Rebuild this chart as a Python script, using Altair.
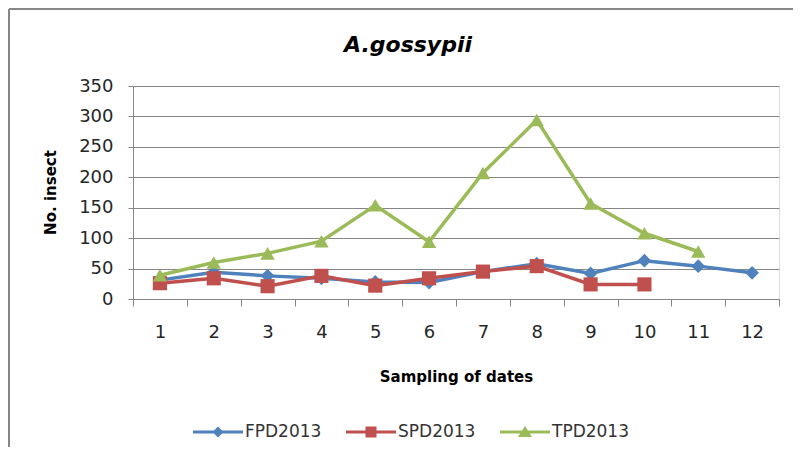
import altair as alt
import pandas as pd

dates = [str(i) for i in range(1, 13)]
fpd2013 = [31, 44, 38, 34, 28, 27, 45, 58, 42, 63, 54, 43]
spd2013 = [26, 34, 21, 38, 22, 34, 45, 54, 24, 24, None, None]
tpd2013 = [39, 60, 75, 95, 154, 94, 207, 294, 157, 108, 78, None]
series_names = ["FPD2013", "SPD2013", "TPD2013"]
series_colors = ["#4F81BD", "#C0504D", "#9BBB59"]
chart_title = "A.gossypii"

rows = []
for name, vals in zip(series_names, [fpd2013, spd2013, tpd2013]):
    for d, v in zip(dates, vals):
        if v is not None:
            rows.append({"date": d, "series": name, "value": v})
df = pd.DataFrame(rows)

FONT = "DejaVu Sans"
TXT = "#262626"

x_enc = alt.X(
    "date:O",
    sort=dates,
    bandPosition=0.5,
    scale=alt.Scale(type="band", paddingInner=0, paddingOuter=0, domain=dates),
    axis=alt.Axis(
        title="Sampling of dates", labelAngle=0, tickBand="extent", tickSize=7,
        labelPadding=17, labelFontSize=18, labelColor=TXT, labelFont=FONT,
        titleFont=FONT, titleFontSize=15, titleFontWeight="bold", titleColor="#000",
        titleY=77, titleBaseline="middle",
        domainColor="#868686", tickColor="#868686", grid=False,
    ),
)
y_enc = alt.Y(
    "value:Q",
    scale=alt.Scale(domain=[0, 350], nice=False),
    axis=alt.Axis(
        title="No. insect", values=list(range(0, 351, 50)), tickSize=5,
        labelPadding=15, labelFontSize=18, labelColor=TXT, labelFont=FONT,
        titleFont=FONT, titleFontSize=15, titleFontWeight="bold", titleColor="#000",
        titleX=-83, titleY=106, titleAngle=-90, titleAlign="center", titleBaseline="middle",
        domainColor="#868686", tickColor="#868686", gridColor="#868686", gridWidth=1,
    ),
)

lines = alt.Chart(df).mark_line(strokeWidth=3.5).encode(
    x=x_enc, y=y_enc,
    color=alt.Color("series:N", scale=alt.Scale(domain=series_names, range=series_colors), legend=None),
    detail="series:N",
)

points = alt.Chart(df).mark_point(filled=True, opacity=1).encode(
    x=x_enc, y=y_enc,
    color=alt.Color("series:N", scale=alt.Scale(domain=series_names, range=series_colors), legend=None),
    shape=alt.Shape("series:N", scale=alt.Scale(domain=series_names, range=["diamond", "square", "triangle-up"]), legend=None),
    size=alt.Size("series:N", scale=alt.Scale(domain=series_names, range=[190, 210, 270]), legend=None),
)

line_part = "M-1,-0.06L1,-0.06L1,0.06L-1,0.06Z "
legend_paths = [
    line_part + "M0,-0.22L0.22,0L0,0.22L-0.22,0Z",
    line_part + "M-0.22,-0.22L0.22,-0.22L0.22,0.22L-0.22,0.22Z",
    line_part + "M0,-0.24L0.28,0.2L-0.28,0.2Z",
]

leg = alt.Legend(
    title=None, orient="none", direction="horizontal", legendX=60, legendY=321,
    symbolSize=2500, symbolOpacity=1, labelFontSize=17, labelFont=FONT,
    labelColor="#333", labelOffset=2, columnPadding=24, symbolStrokeWidth=0,
)

legend_layer = alt.Chart(df).mark_point(filled=True, opacity=0).encode(
    x=x_enc, y=y_enc,
    color=alt.Color("series:N", scale=alt.Scale(domain=series_names, range=series_colors), legend=leg),
    shape=alt.Shape("series:N", scale=alt.Scale(domain=series_names, range=legend_paths), legend=leg),
)

frame_top = alt.Chart(df).mark_rule(stroke="#868686", strokeWidth=2).encode(
    x=alt.value(-124), x2=alt.value(660), y=alt.value(-77)
)
frame_left = alt.Chart(df).mark_rule(stroke="#868686", strokeWidth=2).encode(
    x=alt.value(-124), y=alt.value(-77), y2=alt.value(361)
)

title_mark = alt.Chart(pd.DataFrame({"t": [chart_title]})).mark_text(
    font=FONT, fontSize=22, fontWeight="bold", fontStyle="italic", color="#000",
    align="center", baseline="alphabetic",
).encode(text="t:N", x=alt.value(275), y=alt.value(-34))

chart = alt.layer(frame_top, frame_left, lines, points, legend_layer, title_mark).resolve_scale(
    shape="independent", size="independent", color="independent"
).properties(
    width=646, height=213,
    autosize=alt.AutoSizeParams(type="none"),
    padding={"left": 125, "top": 78, "right": 14, "bottom": 148},
).configure_view(stroke=None).configure(background="white")

chart.save("out.html", embed_options={"renderer": "svg", "actions": False})
